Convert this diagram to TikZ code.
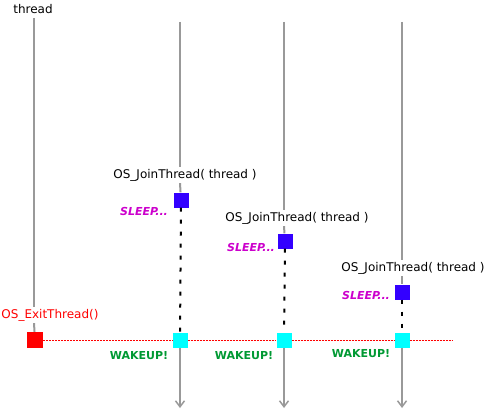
\documentclass[tikz,border=0pt]{standalone}
\usepackage{fontspec}
\setmainfont{DejaVu Sans}
\usetikzlibrary{arrows.meta}
\definecolor{tgray}{HTML}{999999}
\definecolor{sleepblue}{HTML}{3300FF}
\definecolor{sleepmag}{HTML}{CC00CC}
\definecolor{wakegreen}{HTML}{009933}
\definecolor{wakecyan}{HTML}{00FFFF}
\tikzstyle{tline} = [draw=tgray, line width=2pt]
\tikzstyle{tarrow} = [tline, -{Straight Barb[length=6pt,width=9pt,line width=1.5pt]}]
\tikzstyle{wait} = [draw=black, line width=2pt, dash pattern=on 4pt off 8pt]
\tikzstyle{exitline} = [draw=red, line width=0.8pt, dash pattern=on 2pt off 1pt]
\tikzstyle{joinbox} = [rectangle, fill=sleepblue, minimum size=15pt, inner sep=0pt]
\tikzstyle{wakebox} = [rectangle, fill=wakecyan, minimum size=15pt, inner sep=0pt]
\tikzstyle{exitbox} = [rectangle, fill=red, minimum size=16pt, inner sep=0pt]
\tikzstyle{call} = [inner sep=2pt, font=\fontsize{12}{14}\selectfont]
\tikzstyle{sleeptxt} = [text=sleepmag, inner sep=1pt, font=\fontsize{11}{13}\selectfont\bfseries\itshape]
\tikzstyle{waketxt} = [text=wakegreen, inner sep=1pt, font=\fontsize{11}{13}\selectfont\bfseries]

\begin{document}
\begin{tikzpicture}[x=1pt, y=-1pt]
        \useasboundingbox (0,0) rectangle (492,409);

        % exiting thread
        \node (T) [call] at (33,9) {thread};
        \coordinate (a0) at (34,18);
        \node (E) [call, text=red] at (50,315) {OS\_ExitThread()};
        \node (X) [exitbox] at (35,340) {};

        \draw[tline] (a0) -- (a0 |- E.north);
        \draw[tline] (a0 |- E.south) -- (X);

        % joining threads
        \coordinate (b0) at (180,22);
        \coordinate (b1) at (180,408);
        \node (J1) [call] at (185,175) {OS\_JoinThread( thread )};
        \node (S1) [joinbox] at (181,200) {};
        \node (W1) [wakebox] at (180,340) {};

        \coordinate (c0) at (284,22);
        \coordinate (c1) at (284,408);
        \node (J2) [call] at (297,218) {OS\_JoinThread( thread )};
        \node (S2) [joinbox] at (285,241) {};
        \node (W2) [wakebox] at (284,340) {};

        \coordinate (d0) at (402,22);
        \coordinate (d1) at (402,408);
        \node (J3) [call] at (413,268) {OS\_JoinThread( thread )};
        \node (S3) [joinbox] at (402,292) {};
        \node (W3) [wakebox] at (402,340) {};

        \draw[tline] (b0) -- (b0 |- J1.north);
        \draw[tline] (b0 |- J1.south) -- (S1);
        \draw[wait] (S1) -- (W1);
        \draw[tarrow] (W1) -- (b1);

        \draw[tline] (c0) -- (c0 |- J2.north);
        \draw[tline] (c0 |- J2.south) -- (S2);
        \draw[wait] (S2) -- (W2);
        \draw[tarrow] (W2) -- (c1);

        \draw[tline] (d0) -- (d0 |- J3.north);
        \draw[tline] (d0 |- J3.south) -- (S3);
        \draw[wait] (S3) -- (W3);
        \draw[tarrow] (W3) -- (d1);

        % exit signal
        \coordinate (R) at (452,340);
        \draw[exitline] (X) -- (W1) -- (W2) -- (W3) -- (R);

        \node (SL1) [sleeptxt] at (144,211) {SLEEP...};
        \node (SL2) [sleeptxt] at (251,247) {SLEEP...};
        \node (SL3) [sleeptxt] at (366,295) {SLEEP...};

        \node (WK1) [waketxt] at (139,356) {WAKEUP!};
        \node (WK2) [waketxt] at (244,356) {WAKEUP!};
        \node (WK3) [waketxt] at (361,354) {WAKEUP!};

    \end{tikzpicture}
\end{document}
